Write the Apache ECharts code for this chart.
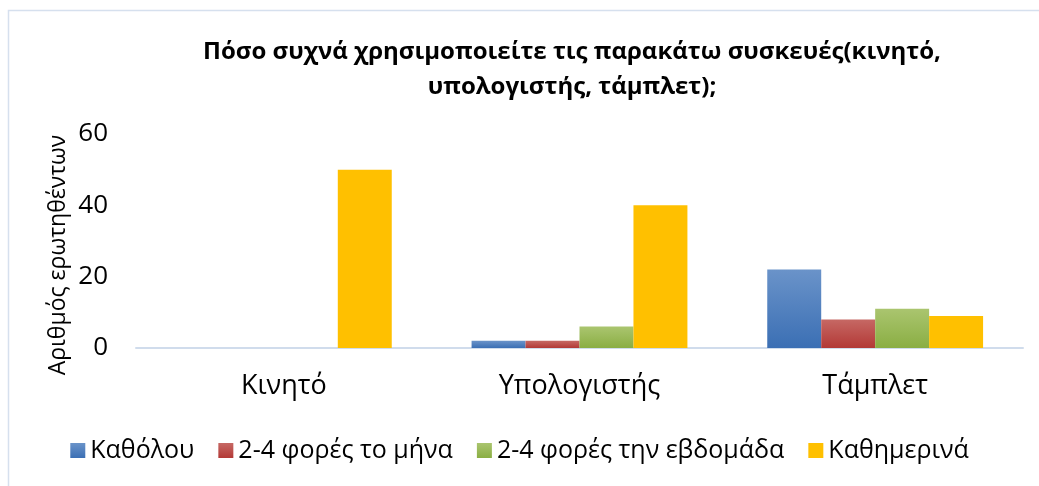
<!DOCTYPE html>
<html>
<head>
<meta charset="utf-8">
<script src="https://cdn.jsdelivr.net/npm/echarts@6/dist/echarts.min.js"></script>
<style>
  html, body { margin: 0; padding: 0; background: #fff; }
  #chart { width: 1039px; height: 486px; }
</style>
</head>
<body>
<div id="chart"></div>
<script>
var categories = ["Κινητό", "Υπολογιστής", "Τάμπλετ"];
var seriesNames = ["Καθόλου", "2-4 φορές το μήνα", "2-4 φορές την εβδομάδα", "Καθημερινά"];
var valsNone = [0, 2, 22];
var valsMonth = [0, 2, 8];
var valsWeek = [0, 6, 11];
var valsDaily = [50, 40, 9];
var yTicks = [0, 20, 40, 60];

var fontMain = '"Open Sans", "Noto Sans", sans-serif';

function grad(top, bottom) {
  return {
    type: 'linear', x: 0, y: 0, x2: 0, y2: 1,
    colorStops: [{ offset: 0, color: top }, { offset: 1, color: bottom }]
  };
}

var colors = [
  grad('#6a93c9', '#3b6fb4'),
  grad('#c66864', '#b33936'),
  grad('#aac56f', '#8aae43'),
  '#ffc000'
];
var allVals = [valsNone, valsMonth, valsWeek, valsDaily];

var chart = echarts.init(document.getElementById('chart'));
chart.setOption({
  animation: false,
  backgroundColor: '#fff',
  graphic: [{
    type: 'rect',
    shape: { x: 8.5, y: 10.5, width: 1100, height: 600 },
    style: { fill: 'none', stroke: '#d6e0ee', lineWidth: 1.5 }
  }, {
    // y axis name, drawn separately so it can sit a bit lower like the original
    type: 'text', x: 58, y: 255, rotation: Math.PI / 2,
    style: {
      text: 'Αριθμός ερωτηθέντων', fill: '#000',
      font: '23px ' + fontMain, textAlign: 'center', textVerticalAlign: 'middle'
    }
  }],
  title: {
    text: 'Πόσο συχνά χρησιμοποιείτε τις παρακάτω συσκευές(κινητό,\nυπολογιστής, τάμπλετ);',
    left: 567, top: 30, textAlign: 'center',
    textStyle: { fontFamily: fontMain, fontWeight: 'bold', fontSize: 24, lineHeight: 35, color: '#000' }
  },
  legend: {
    data: seriesNames,
    bottom: 18, left: 'center',
    itemWidth: 15, itemHeight: 15, itemGap: 24,
    icon: 'rect',
    textStyle: { fontFamily: fontMain, fontSize: 25, color: '#000' }
  },
  grid: { left: 136, right: 16, top: 134, bottom: 138 },
  xAxis: {
    type: 'category',
    data: categories,
    axisLine: { lineStyle: { color: '#d0dcec', width: 2 } },
    axisTick: { show: false },
    axisLabel: { fontFamily: fontMain, fontSize: 27, color: '#000', margin: 25 }
  },
  yAxis: {
    type: 'value', min: yTicks[0], max: yTicks[yTicks.length - 1], interval: 20,
    axisLine: { show: false }, axisTick: { show: false },
    splitLine: { show: false },
    axisLabel: { fontFamily: fontMain, fontSize: 26, color: '#000', margin: 28 }
  },
  series: seriesNames.map(function (n, i) {
    return {
      name: n, type: 'bar', data: allVals[i],
      barGap: '0%', barCategoryGap: '27%',
      itemStyle: { color: colors[i] }
    };
  })
});
</script>
</body>
</html>
